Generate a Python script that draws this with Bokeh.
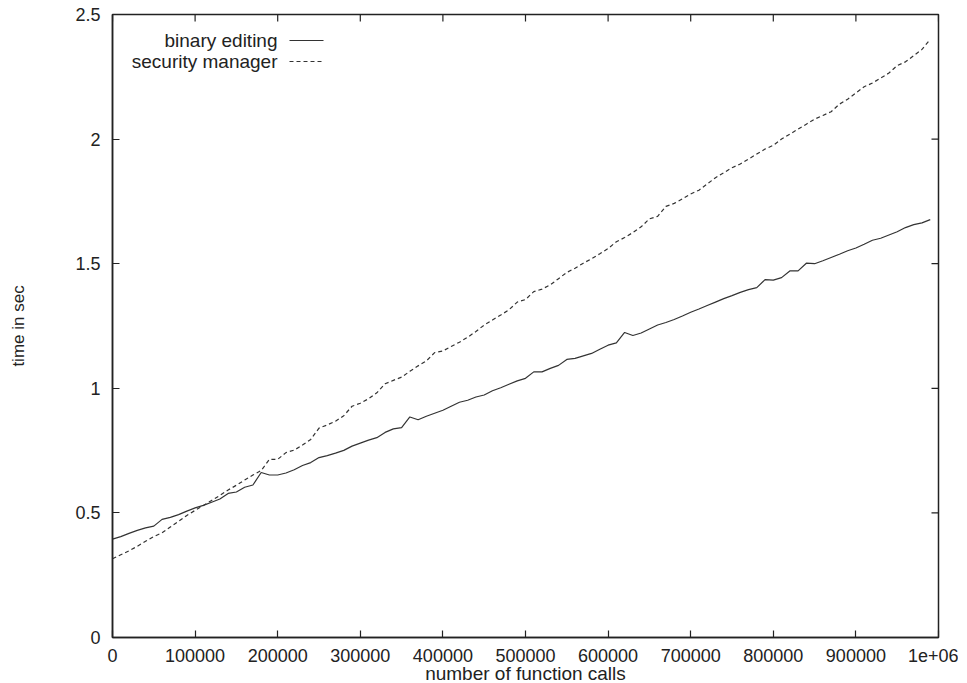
import math
from bokeh.plotting import figure
from bokeh.models import FixedTicker, PrintfTickFormatter, Label, Arrow, Range1d
from bokeh.embed import file_html
from bokeh.resources import INLINE

calls = [i * 10000 for i in range(100)]

binary_editing = [
    0.395, 0.405, 0.418, 0.430, 0.440, 0.447, 0.474, 0.482, 0.493, 0.507,
    0.520, 0.530, 0.543, 0.556, 0.578, 0.584, 0.603, 0.612, 0.662, 0.652,
    0.652, 0.660, 0.673, 0.690, 0.702, 0.722, 0.730, 0.740, 0.751, 0.768,
    0.780, 0.792, 0.802, 0.823, 0.837, 0.842, 0.885, 0.874, 0.888, 0.900,
    0.912, 0.928, 0.944, 0.952, 0.965, 0.973, 0.990, 1.002, 1.016, 1.030,
    1.040, 1.066, 1.066, 1.080, 1.092, 1.116, 1.120, 1.130, 1.140, 1.157,
    1.173, 1.182, 1.224, 1.212, 1.222, 1.238, 1.254, 1.264, 1.276, 1.290,
    1.305, 1.318, 1.332, 1.346, 1.360, 1.372, 1.385, 1.396, 1.404, 1.436,
    1.434, 1.444, 1.471, 1.471, 1.502, 1.500, 1.512, 1.525, 1.538, 1.552,
    1.563, 1.578, 1.594, 1.602, 1.615, 1.628, 1.645, 1.657, 1.664, 1.677,
]

security_manager = [
    0.316, 0.332, 0.348, 0.366, 0.386, 0.405, 0.420, 0.443, 0.466, 0.490,
    0.510, 0.530, 0.550, 0.570, 0.592, 0.611, 0.632, 0.652, 0.670, 0.715,
    0.715, 0.742, 0.752, 0.772, 0.795, 0.840, 0.853, 0.868, 0.890, 0.928,
    0.940, 0.958, 0.982, 1.018, 1.032, 1.045, 1.068, 1.090, 1.110, 1.143,
    1.150, 1.168, 1.185, 1.205, 1.228, 1.254, 1.274, 1.294, 1.315, 1.346,
    1.356, 1.388, 1.398, 1.415, 1.440, 1.465, 1.482, 1.502, 1.520, 1.540,
    1.561, 1.588, 1.605, 1.625, 1.648, 1.680, 1.690, 1.730, 1.742, 1.760,
    1.780, 1.795, 1.820, 1.845, 1.865, 1.885, 1.900, 1.920, 1.940, 1.960,
    1.975, 2.000, 2.020, 2.040, 2.060, 2.080, 2.095, 2.110, 2.140, 2.160,
    2.185, 2.210, 2.225, 2.245, 2.265, 2.295, 2.310, 2.335, 2.360, 2.400,
]

x_ticks = [0, 100000, 200000, 300000, 400000, 500000, 600000, 700000, 800000, 900000, 1000000]
y_ticks = [0, 0.5, 1, 1.5, 2, 2.5]
x_max = 1000000
y_max = 2.5
x_title = "number of function calls"
y_title = "time in sec"

FONT = "Liberation Sans"
TXT = "#222222"
LINE = "#333333"
AXC = "#222222"

p = figure(frame_width=826, frame_height=623, output_backend="svg", toolbar_location=None,
           x_range=Range1d(0, x_max), y_range=Range1d(0, y_max),
           x_axis_label=x_title, y_axis_label=y_title,
           min_border_left=112, min_border_right=20, min_border_top=14, min_border_bottom=46)
p.grid.visible = False
p.background_fill_color = "white"
p.border_fill_color = "white"
p.outline_line_color = AXC
p.outline_line_width = 1.5

p.xaxis.ticker = FixedTicker(ticks=x_ticks)
p.yaxis.ticker = FixedTicker(ticks=y_ticks)
p.xaxis.formatter = PrintfTickFormatter(format="%g")
p.yaxis.formatter = PrintfTickFormatter(format="%g")
p.xaxis.major_label_overrides = {1000000: "1e+06"}

for ax in (p.xaxis[0], p.yaxis[0]):
    ax.major_tick_in = 7
    ax.major_tick_out = 0
    ax.minor_tick_in = 0
    ax.minor_tick_out = 0
    ax.axis_line_color = AXC
    ax.axis_line_width = 1.5
    ax.major_tick_line_color = AXC
    ax.major_tick_line_width = 1.2
    ax.major_label_text_font = FONT
    ax.major_label_text_font_size = "18px"
    ax.major_label_text_color = TXT
    ax.axis_label_text_font = FONT
    ax.axis_label_text_font_style = "normal"
    ax.axis_label_text_color = TXT

p.xaxis.major_label_standoff = 11
p.xaxis.axis_label_standoff = -2
p.xaxis.axis_label_text_font_size = "19px"
p.yaxis.major_label_standoff = 12
p.yaxis.axis_label_standoff = 44
p.yaxis.axis_label_text_font_size = "17px"

# mirrored tick marks on the top and right frame edges (clipped to the frame)
p.scatter(x_ticks, [y_max] * len(x_ticks), marker="dash", angle=math.pi / 2, size=14,
          line_color=AXC, line_width=1.2)
p.scatter([x_max] * len(y_ticks), y_ticks, marker="dash", size=14,
          line_color=AXC, line_width=1.2)

p.line(calls, binary_editing, line_color=LINE, line_width=1.2)
p.line(calls, security_manager, line_color=LINE, line_width=1.2, line_dash="4 3")

# gnuplot-style key: label then sample line
key_rows = [("binary editing", 597, "solid"), ("security manager", 576, "4 3")]
for text, y, dash in key_rows:
    p.add_layout(Label(x=165, y=y, x_units="screen", y_units="screen", text=text,
                       text_align="right", text_baseline="middle", text_font=FONT,
                       text_font_size="19px", text_color=TXT))
    p.add_layout(Arrow(end=None, x_start=177, y_start=y, x_end=211, y_end=y,
                       start_units="screen", end_units="screen",
                       line_color=LINE, line_width=1.2, line_dash=dash))

open("out.html", "w").write(file_html(p, INLINE))
